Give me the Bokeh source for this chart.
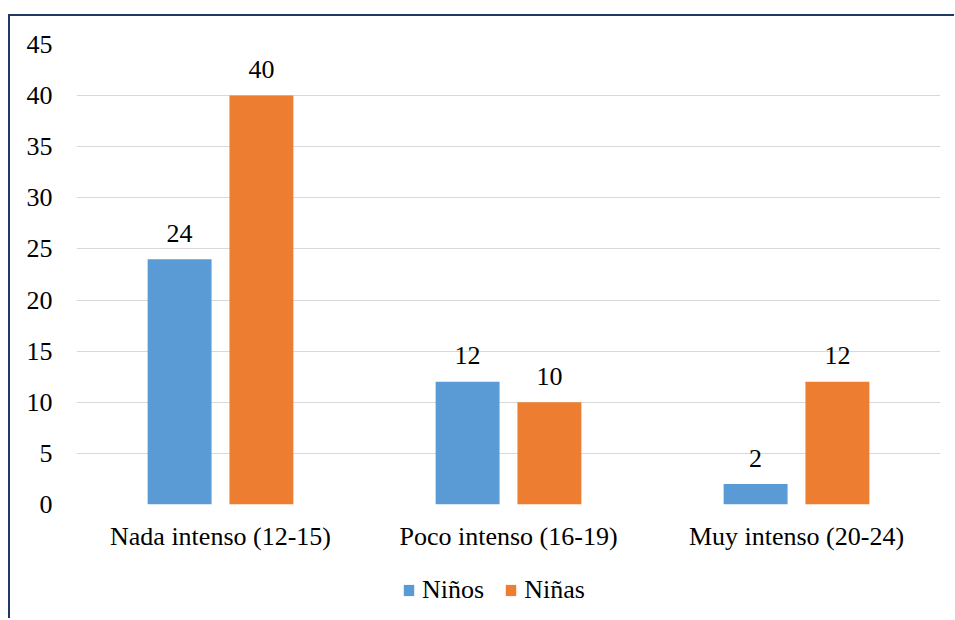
from bokeh.plotting import figure
from bokeh.models import ColumnDataSource, FactorRange, Legend, LegendItem, Range1d, FixedTicker
from bokeh.layouts import column
from bokeh.transform import dodge
from bokeh.embed import file_html
from bokeh.resources import INLINE
from bokeh.core.properties import value

categories = ["Nada intenso (12-15)", "Poco intenso (16-19)", "Muy intenso (20-24)"]
ninos = [24, 12, 2]
ninas = [40, 10, 12]
y_ticks = [0, 5, 10, 15, 20, 25, 30, 35, 40, 45]

BLUE = "#5B9BD5"
ORANGE = "#ED7D31"
FONT = "Times New Roman"
FS = "26px"
NAVY = "#1F3864"

W = 944

src = ColumnDataSource(dict(
    cat=categories, ninos=ninos, ninas=ninas,
    ninos_lbl=[str(v) for v in ninos], ninas_lbl=[str(v) for v in ninas],
))

p = figure(
    x_range=FactorRange(factors=categories, range_padding=0),
    y_range=Range1d(0, 45),
    width=W, height=546,
    output_backend="svg", toolbar_location=None,
    min_border_left=66, min_border_top=28, min_border_right=W - 66 - 864, min_border_bottom=58,
    outline_line_color=None,
)

p.vbar(x=dodge("cat", -0.142, range=p.x_range), top="ninos", width=0.222, source=src,
       fill_color=BLUE, line_color=None)
p.vbar(x=dodge("cat", 0.142, range=p.x_range), top="ninas", width=0.222, source=src,
       fill_color=ORANGE, line_color=None)

p.text(x=dodge("cat", -0.142, range=p.x_range), y="ninos", text="ninos_lbl", source=src,
       text_align="center", text_baseline="alphabetic", y_offset=-26,
       text_font=value(FONT), text_font_size=FS, text_color="#000000")
p.text(x=dodge("cat", 0.142, range=p.x_range), y="ninas", text="ninas_lbl", source=src,
       text_align="center", text_baseline="alphabetic", y_offset=-26,
       text_font=value(FONT), text_font_size=FS, text_color="#000000")

p.xgrid.grid_line_color = None
p.ygrid.grid_line_color = "#D9D9D9"
p.ygrid.grid_line_width = 1
p.yaxis.ticker = FixedTicker(ticks=y_ticks)

for ax in (p.xaxis[0], p.yaxis[0]):
    ax.axis_line_color = None
    ax.major_tick_line_color = None
    ax.minor_tick_line_color = None
    ax.major_label_text_font = FONT
    ax.major_label_text_font_size = FS
    ax.major_label_text_color = "#000000"
p.yaxis.major_label_standoff = 18
p.xaxis.major_label_standoff = 11

# legend strip below the chart
lg = figure(
    x_range=FactorRange(factors=categories), y_range=Range1d(1000, 1001),
    width=W, height=56, output_backend="svg", toolbar_location=None,
    x_axis_type=None, y_axis_type=None, outline_line_color=None,
    min_border_left=0, min_border_right=0, min_border_top=0, min_border_bottom=0,
)
lg.xgrid.grid_line_color = None
lg.ygrid.grid_line_color = None
l1 = lg.vbar(x="cat", top="ninos", width=0.2, source=src, fill_color=BLUE, line_color=None)
l2 = lg.vbar(x="cat", top="ninas", width=0.2, source=src, fill_color=ORANGE, line_color=None)
legend = Legend(items=[LegendItem(label="Niños", renderers=[l1]), LegendItem(label="Niñas", renderers=[l2])],
                orientation="horizontal", location=(326, 13),
                label_text_font=FONT, label_text_font_size=FS, label_text_color="#000000",
                glyph_width=13, glyph_height=14, label_standoff=7, spacing=20,
                border_line_color=None, background_fill_alpha=0, padding=6, margin=0)
lg.add_layout(legend)

layout = column(p, lg, spacing=0)
layout.styles = {"margin-left": "8px", "margin-top": "14px",
                 "border-left": "2px solid " + NAVY, "border-top": "2px solid " + NAVY}

open("out.html", "w").write(file_html(layout, INLINE))
